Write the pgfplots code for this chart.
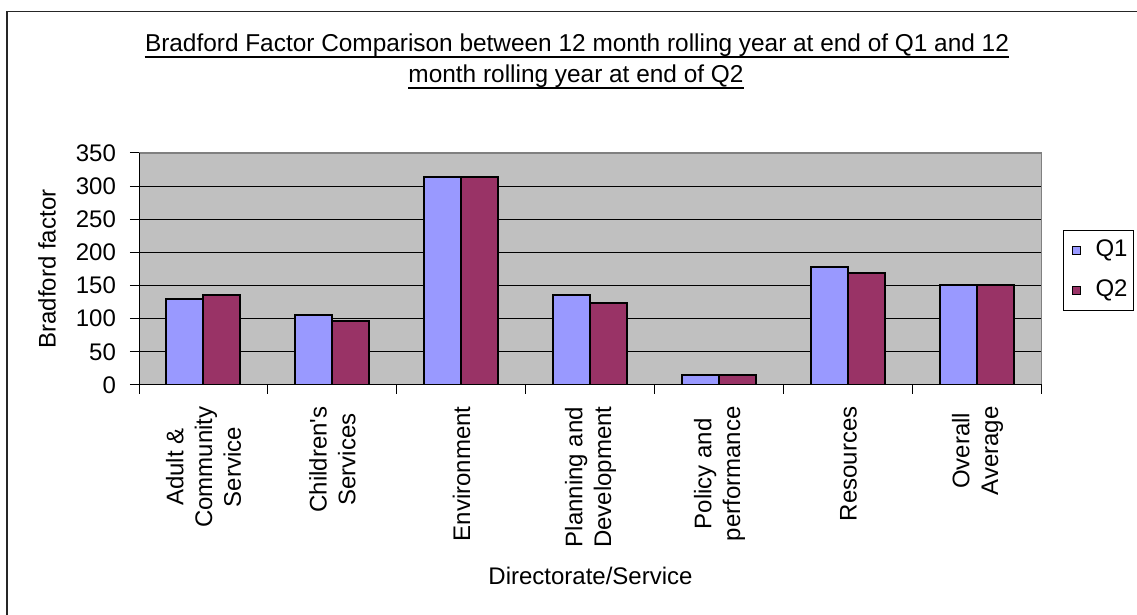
\documentclass[border=0pt]{standalone}
\usepackage{fontspec}
\setmainfont{Liberation Sans}[Ligatures=TeXOff]
\usepackage{pgfplots}
\pgfplotsset{compat=1.18}
\definecolor{plotbg}{HTML}{C0C0C0}
\definecolor{qone}{HTML}{9999FF}
\definecolor{qtwo}{HTML}{993366}
\definecolor{frameg}{HTML}{808080}
\newcommand{\f}{\fontsize{12}{14.4}\selectfont}

\begin{document}
\begin{tikzpicture}[font=\f]
\useasboundingbox (0,0) rectangle (568.5pt,307.5pt);
\begin{axis}[
  at={(69.5pt,115pt)}, anchor=south west,
  scale only axis, width=451.5pt, height=116pt,
  ybar=0pt, bar width=18.5pt,
  xmin=-0.5, xmax=6.5, ymin=0, ymax=350,
  xtick={-0.5,0.5,1.5,2.5,3.5,4.5,5.5,6.5},
  x tick label as interval,
  xticklabels={{Adult \&\\Community\\Service},{Children's\\Services},{Environment},{Planning and\\Development},{Policy and\\performance},{Resources},{Overall\\Average}},
  xticklabel style={rotate=90, anchor=east, align=center, font=\f, inner sep=0pt},
  xticklabel shift=6pt,
  ytick={0,50,...,350},
  yticklabel style={font=\f, xshift=-3.5pt},
  xtick pos=bottom, ytick pos=left,
  /pgf/number format/assume math mode=true,
  tick align=outside, major tick length=4.5pt,
  tick style={black, line width=0.5pt},
  ymajorgrids, grid style={black, line width=0.5pt},
  axis line style={draw=none},
  axis background/.style={fill=plotbg},
  ylabel={Bradford factor},
  xlabel={Directorate/Service},
  every axis y label/.style={at={(axis description cs:-0.1019,0.5)}, rotate=90, anchor=center, font=\f},
  every axis x label/.style={at={(axis description cs:0.5,-0.862)}, anchor=base, font=\f},
  legend style={at={(axis description cs:1.0233,0.668)}, anchor=north west, draw=black, line width=0.5pt, fill=white, font=\f, inner xsep=1.5pt, inner ysep=0pt, row sep=0pt, nodes={text height=9pt, text depth=3pt, inner ysep=4pt, inner xsep=1.5pt}},
  legend cell align=left,
]
\addplot[fill=qone, draw=black, line width=1pt,
  legend image code/.code={\draw[fill=qone,draw=black,line width=0.6pt] (3.1pt,-1.9pt) rectangle (6.9pt,1.9pt); \path[draw=none,fill=none] (0pt,0pt) -- (13pt,0pt);}]
  coordinates {(0,129) (1,105.5) (2,313.5) (3,135.5) (4,14.5) (5,177.5) (6,150.5)};
\addplot[fill=qtwo, draw=black, line width=1pt,
  legend image code/.code={\draw[fill=qtwo,draw=black,line width=0.6pt] (3.1pt,-1.9pt) rectangle (6.9pt,1.9pt); \path[draw=none,fill=none] (0pt,0pt) -- (13pt,0pt);}]
  coordinates {(0,135.5) (1,96) (2,313.5) (3,123.5) (4,14.5) (5,168.5) (6,150.5)};
\legend{Q1,Q2}
\draw[frameg, line width=0.75pt] (rel axis cs:0,1) -- (rel axis cs:1,1) -- (rel axis cs:1,0);
\draw[black, line width=0.5pt] (rel axis cs:0,1) -- (rel axis cs:0,0) -- (rel axis cs:1,0);
\end{axis}
\node[anchor=base, inner sep=0pt, font=\fontsize{12.2}{14.4}\selectfont] (t1) at (288.5pt,281.5pt) {Bradford Factor Comparison between 12 month rolling year at end of Q1 and 12};
\node[anchor=base, inner sep=0pt, font=\fontsize{12.2}{14.4}\selectfont] (t2) at (288pt,266pt) {month rolling year at end of Q2};
\draw[line width=1pt] ([yshift=-2.6pt]t1.base west) -- ([yshift=-2.6pt]t1.base east);
\draw[line width=1pt] ([yshift=-2.6pt]t2.base west) -- ([yshift=-2.6pt]t2.base east);
\draw[black!85, line width=0.7pt] (3.4pt,-5pt) -- (3.4pt,301.6pt) -- (575pt,301.6pt);
\end{tikzpicture}
\end{document}
